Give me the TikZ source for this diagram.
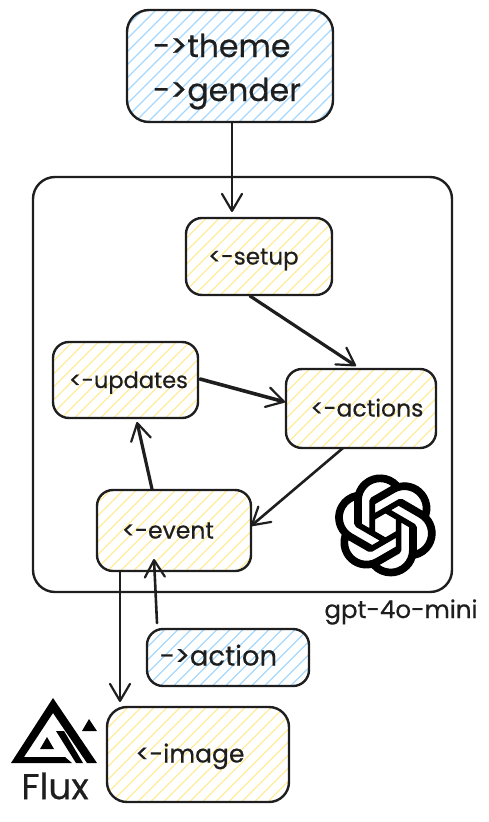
\documentclass[tikz,border=0pt]{standalone}
\usepackage{fontspec}
\setmainfont[FakeBold=0.5]{Poppins}
\usetikzlibrary{arrows.meta,calc,svg.path}

\definecolor{inkblack}{HTML}{1E1E1E}
\definecolor{hatchblue}{HTML}{A5D8FF}
\definecolor{hatchyellow}{HTML}{FFEC99}

\tikzset{
    hatched/.style={path picture={
        \foreach \i in {-325,-312,...,325}
            \draw[#1,line width=1.3pt] ($(path picture bounding box.center)+(\i-150,150)$)
                -- ($(path picture bounding box.center)+(\i+150,-150)$);
    }},
    box/.style={draw=inkblack,line width=2.4pt,rounded corners=16pt,inner sep=0pt,outer sep=0pt,
        text=inkblack,text height=16pt,text depth=0pt},
    yellowbox/.style={box,hatched=hatchyellow},
    bluebox/.style={box,hatched=hatchblue},
    flow/.style={draw=inkblack,line width=2.6pt,line cap=round,
        -{Straight Barb[length=17pt,width=20pt,line width=2.2pt,round]}},
}

\begin{document}
\begin{tikzpicture}[x=1pt,y=-1pt]

    \useasboundingbox (0,0) rectangle (488,822);

    % ============================================
    % CONTAINER
    % ============================================

    \node (model) at (242.5,384.5) [draw=inkblack,line width=2.4pt,rounded corners=22pt,
        minimum width=419pt,minimum height=415pt] {};

    % ============================================
    % BOXES
    % ============================================

    \node (params) at (230,66) [bluebox,rounded corners=22pt,minimum width=206pt,minimum height=112pt,
        align=left,text height=70pt,text depth=0pt,font=\fontsize{31.5}{44}\selectfont]
        {\hspace*{-6pt}->theme\\\hspace*{-6pt}->gender};
    \node (setup) at (259,256.5) [yellowbox,minimum width=146pt,minimum height=77pt,font=\fontsize{23}{27}\selectfont]
        {\hspace*{-11pt}<-setup};
    \node (updates) at (125.5,380) [yellowbox,minimum width=145pt,minimum height=76pt,font=\fontsize{22.5}{27}\selectfont]
        {\hspace*{6pt}<-updates};
    \node (actions) at (361,408.5) [yellowbox,minimum width=150pt,minimum height=79pt,font=\fontsize{23.5}{27}\selectfont]
        {\hspace*{12pt}<-actions};
    \node (event) at (174,530.5) [yellowbox,minimum width=154pt,minimum height=81pt,font=\fontsize{23.5}{27}\selectfont]
        {\hspace*{-12pt}<-event};
    \node (action) at (228,657.5) [bluebox,minimum width=162pt,minimum height=57pt,font=\fontsize{27.5}{32}\selectfont]
        {\hspace*{-19pt}->action};
    \node (image) at (198,754.5) [yellowbox,rounded corners=20pt,minimum width=182pt,minimum height=95pt,font=\fontsize{25}{30}\selectfont]
        {\hspace*{-16pt}<-image};

    % ============================================
    % ARROWS
    % ============================================

    \draw[flow] ([xshift=2pt]params.south) -- ([xshift=-27pt,yshift=6pt]setup.north);
    \draw[flow,line width=3.2pt] ([xshift=-9pt,yshift=-1pt]setup.south) -- ([xshift=-5pt,yshift=3pt]actions.north);
    \draw[flow,line width=3.6pt] ([xshift=2pt,yshift=1pt]updates.east) -- ([xshift=-1pt,yshift=6.5pt]actions.west);
    \draw[flow] ([xshift=-18pt]actions.south) -- ([yshift=4.5pt]event.east);
    \draw[flow,line width=3.2pt] ([xshift=-22pt,yshift=1pt]event.north) -- ([xshift=11.5pt,yshift=-4pt]updates.south);
    \draw[flow] ([xshift=-71pt,yshift=6pt]action.north) -- ([xshift=-20pt,yshift=12pt]event.south);
    \draw[flow] ([xshift=-54pt]event.south) -- ([xshift=-78pt,yshift=5pt]image.north);

    % ============================================
    % LOGOS AND CAPTIONS
    % ============================================

    % knot logo, drawn in a 24 x 24 box
    \begin{scope}[shift={(335,475)},scale=4.2,yscale=-1]
        \filldraw[black,line width=1.1pt,line join=round,even odd rule] svg {M 22.2819 9.8211 a 5.9847 5.9847 0 0 0 -0.5157 -4.9108
            a 6.0462 6.0462 0 0 0 -6.5098 -2.9 A 6.0651 6.0651 0 0 0 4.9807 4.1818
            a 5.9847 5.9847 0 0 0 -3.9977 2.9 a 6.0462 6.0462 0 0 0 0.7427 7.0966
            a 5.98 5.98 0 0 0 0.511 4.9107 a 6.051 6.051 0 0 0 6.5146 2.9001
            A 5.9847 5.9847 0 0 0 13.2599 24 a 6.0557 6.0557 0 0 0 5.7718 -4.2058
            a 5.9894 5.9894 0 0 0 3.9977 -2.9001 a 6.0557 6.0557 0 0 0 -0.7475 -7.0729 z
            M 13.2599 22.4292 a 4.4755 4.4755 0 0 1 -2.8764 -1.0408 l 0.1419 -0.0804 l 4.7783 -2.7582
            l 0.3927 -0.6813 v -6.7369 l 2.058 1.2206 v 5.5826 a 4.504 4.504 0 0 1 -4.4945 4.4944 z
            M 3.5992 18.3038 a 4.4708 4.4708 0 0 1 -0.5346 -3.0137 l 0.142 0.0852 l 4.783 2.7582
            l 0.7806 0 l 5.8428 -3.3685 v 2.3324 l -0.0332 0.0615 L 9.74 19.9502
            a 4.4992 4.4992 0 0 1 -6.1408 -1.6464 z
            M 2.3408 7.8956 a 4.485 4.485 0 0 1 2.3655 -1.9728 V 11.6 l 0.3879 0.6765 l 5.8144 3.3543
            l -2.0201 1.1685 l -0.071 0 l -4.8303 -2.7865 A 4.504 4.504 0 0 1 2.3408 7.872 z
            M 18.9371 11.7514 L 13.1038 8.364 L 15.1192 7.2 l 0.071 0 l 4.8303 2.7913
            a 4.4944 4.4944 0 0 1 -0.6765 8.1042 v -5.6772 l -0.407 -0.667 z
            M 20.9478 8.7283 l -0.142 -0.0852 l -4.7735 -2.7818 l -0.7854 0 L 9.409 9.2297 V 6.8974
            l 0.0284 -0.0615 l 4.8303 -2.7866 a 4.4992 4.4992 0 0 1 6.6802 4.66 z
            M 8.3065 12.863 l -2.02 -1.1638 l -0.038 -0.0567 V 6.0742
            a 4.4992 4.4992 0 0 1 7.3757 -3.4537 l -0.142 0.0805 L 8.704 5.459 l -0.3927 0.6813 z
            M 9.4041 10.4976 l 2.602 -1.4998 l 2.6069 1.4998 v 2.9994 l -2.5974 1.4997 l -2.6067 -1.4997 z};
    \end{scope}
    \node (gptlabel) at (401,612) [text=inkblack,font=\fontsize{24.5}{28}\selectfont] {gpt-4o-mini};

    % triangle logo
    \fill[black] (53,698) -- (97,763) -- (87,763) -- (53,713) -- (24,757) -- (65,757) -- (72,763) -- (11,763) -- cycle;
    \fill[black] (56,731) -- (64,731) -- (83,763) -- (76,763) -- cycle;
    \fill[black] (47,737) -- (54,749) -- (40,749) -- cycle;
    \fill[black] (89,719) -- (97,731) -- (82,731) -- cycle;
    \node (fluxlabel) at (55,786) [text=inkblack,font=\fontsize{36}{40}\selectfont] {Flux};

\end{tikzpicture}
\end{document}
